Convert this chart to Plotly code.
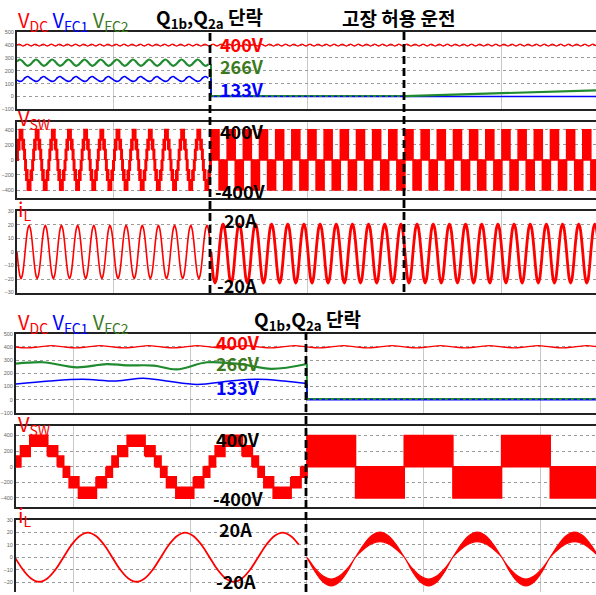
import plotly.graph_objects as go

# ---------------- values ----------------
W, H = 596, 595

TOP_RANGE_MS = [0, 597]          # upper record (about 0.6 s)
BOT_RANGE_MS = [0.2, 99.5]       # lower record (about 0.1 s)
top_fault_ms = [200, 400]        # Q1b,Q2a short / fault-tolerant operation start
bot_fault_ms = [50]
line_period_ms = 16.667          # one 60 Hz cycle
ripple_period_ms = 8.333         # DC-link ripple (2x line frequency)

# DC link voltage, one ripple cycle (V)
vdc_ripple_top = [400, 408, 400, 392]
vdc_ripple_bot = [400, 392, 400, 409]

# flying-capacitor voltages, upper record, one line cycle (V)
vfc2_top_cycle = [272, 288, 276, 252, 238, 250]
vfc1_top_cycle = [128, 118, 124, 146, 156, 142]
vfc_fault_v = [4, 0]             # VFC2, VFC1 after the short
vfc2_top_ramp_ms = [400, 450, 500, 550, 600]
vfc2_top_ramp_v = [3, 13, 25, 37, 49]

# flying-capacitor voltages, lower record (ms, V)
vfc2_bot_ms = [0.2, 4.8, 10.6, 15.7, 19.1, 23.8, 27.7, 32.9, 38.7, 43.9, 50.0]
vfc2_bot_v = [272, 283, 245, 269, 260, 258, 229, 283, 269, 233, 270]
vfc1_bot_ms = [0.2, 5.9, 11.6, 17.4, 22.0, 26.0, 31.2, 36.9, 41.5, 46.1, 50.0]
vfc1_bot_v = [118, 141, 154, 141, 162, 141, 115, 141, 154, 141, 122]

# inductor current, one line cycle sampled every 30 degrees (A)
il_healthy_cycle = [0, -10, -17, -19.7, -17, -10, 0, 10, 17, 19.7, 17, 10]
il_fault_top_cycle = [0, -11.5, -20, -23, -20, -11.5, 0, 10.5, 18, 20.5, 18, 10.5]
il_fault_bot_hi = [0, -9, -15, -17.5, -15, -9, 0, 10, 17.3, 20, 17.3, 10]
il_fault_bot_lo = [0, -11.5, -20, -23, -20, -11.5, 0, 6.3, 10.8, 12.5, 10.8, 6.3]

# switching-node voltage: stair steps within one half cycle
vsw_step_edges_ms = [0, 1.0, 2.6, 5.6, 7.3, 8.333]
vsw_step_lo = [0, 133, 266, 133, 0]
vsw_step_hi = [133, 266, 400, 266, 133]
vsw_fault_lo = 0
vsw_fault_hi = 400

# axis ticks
y_ticks_v = [-100, 0, 100, 200, 300, 400, 500]
y_ticks_sw = [-400, -200, 0, 200, 400]
y_ticks_il = [-30, -20, -10, 0, 10, 20, 30]

RED = "#ff0000"
BLUE = "#0000ff"
GREEN = "#1f8a2e"
GREEN_TXT = "#3c7a1e"
FONT = "Noto Sans CJK KR, Noto Sans, sans-serif"


# ---------------- helpers ----------------
def tile(cycle, period, t0, t1):
    n = len(cycle)
    xs, ys = [], []
    k = 0
    while True:
        t = t0 + k * period / n
        if t > t1 + period:
            break
        xs.append(t)
        ys.append(cycle[k % n])
        k += 1
    return xs, ys


def stair_polys(t0, t1, period):
    xs, ys = [], []
    half = period / 2
    scale = half / vsw_step_edges_ms[-1]
    k = 0
    while t0 + k * half < t1:
        base = t0 + k * half
        sgn = 1 if k % 2 == 0 else -1
        for i in range(len(vsw_step_lo)):
            a = base + vsw_step_edges_ms[i] * scale
            b = base + vsw_step_edges_ms[i + 1] * scale
            lo, hi = sgn * vsw_step_lo[i], sgn * vsw_step_hi[i]
            xs += [a, b, b, a, a, None]
            ys += [lo, lo, hi, hi, lo, None]
        k += 1
    return xs, ys


def block_polys(t0, t1, period):
    xs, ys = [], []
    half = period / 2
    k = 0
    while t0 + k * half < t1:
        a = t0 + k * half
        b = a + half
        sgn = 1 if k % 2 == 0 else -1
        xs += [a, b, b, a, a, None]
        ys += [sgn * vsw_fault_lo, sgn * vsw_fault_lo, sgn * vsw_fault_hi, sgn * vsw_fault_hi, sgn * vsw_fault_lo, None]
        k += 1
    return xs, ys


fig = go.Figure()


def line(ax, xs, ys, color, width, shape="spline", dash=None):
    fig.add_trace(go.Scatter(
        x=xs, y=ys, mode="lines", xaxis="x" + ax, yaxis="y" + ax,
        line=dict(color=color, width=width, shape=shape, dash=dash, smoothing=1),
        hoverinfo="skip", showlegend=False))


def poly(ax, xs, ys, color, width=2, shape="linear"):
    fig.add_trace(go.Scatter(
        x=xs, y=ys, mode="lines", xaxis="x" + ax, yaxis="y" + ax, fill="toself",
        fillcolor=color, line=dict(color=color, width=width, shape=shape),
        hoverinfo="skip", showlegend=False))


P = line_period_ms
tf1, tf2 = top_fault_ms
tb = bot_fault_ms[0]
TEND = TOP_RANGE_MS[1]
BEND = BOT_RANGE_MS[1]

# ---- upper record: capacitor voltages (axis '') ----
x, y = tile(vfc2_top_cycle, P, 0, tf1 - P)
x = [v for v in x if v <= tf1]; y = y[:len(x)]
line("", x, y, GREEN, 2.2)
line("", [tf1, tf1, tf2], [y[-1], vfc_fault_v[0], vfc_fault_v[0]], GREEN, 2, "linear")
x1, y1 = tile(vfc1_top_cycle, P, 0, tf1 - P)
x1 = [v for v in x1 if v <= tf1]; y1 = y1[:len(x1)]
line("", x1, y1, BLUE, 1.6)
line("", [tf1, tf1, TEND], [y1[-1], vfc_fault_v[1], vfc_fault_v[1]], BLUE, 1.6, "linear")
line("", [tf1, tf2], [vfc_fault_v[0], vfc_fault_v[0]], GREEN, 2, "linear", "dot")
line("", vfc2_top_ramp_ms, vfc2_top_ramp_v, GREEN, 2.2, "linear")
x, y = tile(vdc_ripple_top, ripple_period_ms, 0, TEND)
line("", x, y, RED, 1.3)

# ---- upper record: VSW (axis 2) ----
x, y = stair_polys(0, tf1, P)
poly("2", x, y, RED, 2)
x, y = block_polys(tf1, TEND, P)
poly("2", x, y, RED, 1.5)

# ---- upper record: iL (axis 3) ----
x, y = tile(il_healthy_cycle, P, 0, tf1 - P)
x = [v for v in x if v <= tf1]; y = y[:len(x)]
line("3", x, y, RED, 1.6)
x, y = tile(il_fault_top_cycle, P, tf1, TEND)
line("3", x, y, RED, 2.8)

# ---- lower record: capacitor voltages (axis 4) ----
line("4", vfc2_bot_ms, vfc2_bot_v, GREEN, 2.2)
line("4", [tb, tb, BEND], [vfc2_bot_v[-1], vfc_fault_v[0], vfc_fault_v[0]], GREEN, 2, "linear")
line("4", vfc1_bot_ms, vfc1_bot_v, BLUE, 1.6)
line("4", [tb, tb, BEND], [vfc1_bot_v[-1], vfc_fault_v[1], vfc_fault_v[1]], BLUE, 1.6, "linear")
line("4", [tb, BEND], [vfc_fault_v[0], vfc_fault_v[0]], GREEN, 2, "linear", "dot")
x, y = tile(vdc_ripple_bot, ripple_period_ms, 0, BEND)
line("4", x, y, RED, 1.3)

# ---- lower record: VSW (axis 5) ----
x, y = stair_polys(0, tb, P)
poly("5", x, y, RED, 2)
x, y = block_polys(tb, BEND, P)
poly("5", x, y, RED, 1.5)

# ---- lower record: iL (axis 6) ----
x, y = tile(il_healthy_cycle, P, 0, tb - P)
x = [v for v in x if v <= tb]; y = y[:len(x)]
line("6", x, y, RED, 1.8)
xh, yh = tile(il_fault_bot_hi, P, tb, BEND)
xl, yl = tile(il_fault_bot_lo, P, tb, BEND)
poly("6", xh + xl[::-1], yh + yl[::-1], RED, 1.2, "spline")

# ---------------- axes ----------------
def ydom(t, b):
    return [1 - b / H, 1 - t / H]

panels = [
    ("", (29.5, 107.5), [-100, 500], y_ticks_v, TOP_RANGE_MS, 17, 100, 200, False),
    ("2", (120, 197), [-505, 505], y_ticks_sw, TOP_RANGE_MS, 17, 100, 200, False),
    ("3", (210.5, 292.5), [-30, 30], y_ticks_il, TOP_RANGE_MS, 17, 100, 200, False),
    ("4", (334, 414), [-100, 500], y_ticks_v, BOT_RANGE_MS, 16, 10, 20, False),
    ("5", (427, 509), [-515, 525], y_ticks_sw, BOT_RANGE_MS, 16, 10, 20, False),
    ("6", (522, 595), [-27.9, 30], y_ticks_il, BOT_RANGE_MS, 16, 10, 20, True),
]
lay = {}
for ax, (t, b), yr, yt, xr, left, tick0, dtick, last in panels:
    xa = dict(domain=[left / W, 1], range=xr, anchor="y" + ax, showticklabels=False,
              ticks="", showgrid=True, gridcolor="#c9c9c9", gridwidth=1.3,
              tick0=tick0, dtick=dtick, zeroline=False, showline=True,
              linecolor="#222", linewidth=2, mirror=not last, fixedrange=True)
    if last:
        xa["side"] = "top"
    ya = dict(domain=ydom(t, b), range=yr, anchor="x" + ax, tickvals=yt,
              ticks="", showgrid=True, gridcolor="#9a9a9a", griddash="dot", gridwidth=1,
              zeroline=False, showline=True, linecolor="#222", linewidth=2,
              tickfont=dict(size=5.5, color="#666", family="Arial"), fixedrange=True)
    lay["xaxis" + ax] = xa
    lay["yaxis" + ax] = ya

# ---------------- dashed fault markers ----------------
shapes = []
for xp, y0, y1 in [(210, 27, 293), (404, 28, 292), (306, 332, 595)]:
    shapes.append(dict(type="line", xref="paper", yref="paper",
                       x0=xp / W, x1=xp / W, y0=1 - y1 / H, y1=1 - y0 / H,
                       line=dict(color="#000", width=2.8, dash="8px,4px")))

# ---------------- texts ----------------
def ann(text, xp, yp, color, size, anchor="left"):
    return dict(text=text, x=xp / W, y=1 - yp / H, xref="paper", yref="paper",
                xanchor=anchor, yanchor="middle", showarrow=False,
                font=dict(color=color, size=size, family=FONT))

legend_txt = (f"<span style='color:{RED}'>V<sub>DC</sub></span> "
              f"<span style='color:{BLUE}'>V<sub>FC1</sub></span> "
              f"<span style='color:{GREEN_TXT}'>V<sub>FC2</sub></span>")
title_txt = "<b>Q<sub>1b</sub>,Q<sub>2a</sub> 단락</b>"


def b(s):
    return "<b>" + s + "</b>"


annotations = [
    ann(legend_txt, 16, 18, RED, 20),
    ann(title_txt, 154, 15, "#000", 19),
    ann(b("고장 허용 운전"), 340, 15, "#000", 19),
    ann(b("400V"), 218, 41, RED, 18),
    ann(b("266V"), 218, 64, GREEN_TXT, 18),
    ann(b("133V"), 218, 87, BLUE, 18),
    ann("V<sub>SW</sub>", 16, 117, RED, 20),
    ann(b("400V"), 218, 129, "#000", 18),
    ann(b("-400V"), 213, 190, "#000", 18),
    ann("i<sub>L</sub>", 16, 209, RED, 20),
    ann(b("20A"), 222, 219, "#000", 18),
    ann(b("-20A"), 215, 285, "#000", 18),
    ann(legend_txt, 16, 323, RED, 20),
    ann(title_txt, 252, 320, "#000", 19),
    ann(b("400V"), 214, 342, RED, 18),
    ann(b("266V"), 214, 364, GREEN_TXT, 18),
    ann(b("133V"), 214, 388, BLUE, 18),
    ann("V<sub>SW</sub>", 16, 426, RED, 20),
    ann(b("400V"), 214, 440, "#000", 18),
    ann(b("-400V"), 211, 500, "#000", 18),
    ann("i<sub>L</sub>", 16, 518, RED, 20),
    ann(b("20A"), 217, 531, "#000", 18),
    ann(b("-20A"), 214, 584, "#000", 18),
]

fig.update_layout(
    width=W, height=H, margin=dict(l=0, r=0, t=0, b=0),
    paper_bgcolor="white", plot_bgcolor="white", showlegend=False,
    shapes=shapes, annotations=annotations, font=dict(family=FONT), **lay)

fig.write_html("out.html", config={"displayModeBar": False},
               post_script="document.body.style.margin='0';document.body.style.overflow='hidden';")
